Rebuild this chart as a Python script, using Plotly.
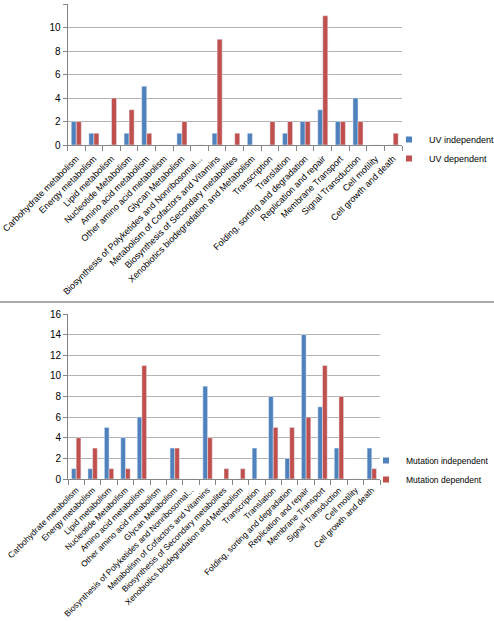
import plotly.graph_objects as go

categories = [
    "Carbohydrate metabolism", "Energy metabolism", "Lipid metabolism",
    "Nucleotide Metabolism", "Amino acid metabolism", "Other amino acid metabolism",
    "Glycan Metabolism", "Biosynthesis of Polyketides and Nonribosomal...",
    "Metabolism of Cofactors and Vitamins", "Biosynthesis of Secondary metabolites",
    "Xenobiotics biodegradation and Metabolism", "Transcription", "Translation",
    "Folding, sorting and degradation", "Replication and repair",
    "Membrane Transport", "Signal Transduction", "Cell motility",
    "Cell growth and death",
]
uv_independent = [2, 1, 0, 1, 5, 0, 1, 0, 1, 0, 1, 0, 1, 2, 3, 2, 4, 0, 0]
uv_dependent = [2, 1, 4, 3, 1, 0, 2, 0, 9, 1, 0, 2, 2, 2, 11, 2, 2, 0, 1]
mut_independent = [1, 1, 5, 4, 6, 0, 3, 0, 9, 0, 0, 3, 8, 2, 14, 7, 3, 0, 3]
mut_dependent = [4, 3, 1, 1, 11, 0, 3, 0, 4, 1, 1, 0, 5, 5, 6, 11, 8, 0, 1]

top_ticks = [0, 2, 4, 6, 8, 10, 12]
bottom_ticks = [0, 2, 4, 6, 8, 10, 12, 14, 16]

BLUE = "#4F81BD"
RED = "#C0504D"
W, H = 494, 621
FONT = "Liberation Sans"

def px_x(p):
    return p / W

def px_y(p):
    return 1 - p / H

fig = go.Figure()

fig.add_trace(go.Bar(x=categories, y=uv_independent, name="UV independent",
                     marker_color=BLUE, xaxis="x", yaxis="y", showlegend=False,
                     legendgroup="uvi"))
fig.add_trace(go.Bar(x=categories, y=uv_dependent, name="UV dependent",
                     marker_color=RED, xaxis="x", yaxis="y", showlegend=False,
                     legendgroup="uvd"))
fig.add_trace(go.Bar(x=categories, y=mut_independent, name="Mutation independent",
                     marker_color=BLUE, xaxis="x2", yaxis="y2", showlegend=False,
                     legendgroup="mi"))
fig.add_trace(go.Bar(x=categories, y=mut_dependent, name="Mutation dependent",
                     marker_color=RED, xaxis="x2", yaxis="y2", showlegend=False,
                     legendgroup="md"))

for name, color, grp, leg, xa, ya in [
    ("UV independent", BLUE, "uvi", "legend", "x", "y"),
    ("UV dependent", RED, "uvd", "legend", "x", "y"),
    ("Mutation independent", BLUE, "mi", "legend2", "x2", "y2"),
    ("Mutation dependent", RED, "md", "legend2", "x2", "y2"),
]:
    fig.add_trace(go.Scatter(x=[None], y=[None], mode="markers", name=name,
                             marker=dict(symbol="square", size=6, color=color),
                             legendgroup=grp, legend=leg, xaxis=xa, yaxis=ya,
                             showlegend=True))

axis_common = dict(
    showline=True, linecolor="#868686", linewidth=1, automargin=False,
)
xcommon = dict(axis_common, type="category", tickangle=-45, ticks="outside",
               tickson="boundaries", ticklen=5, tickcolor="#868686",
               showgrid=False)
ycommon = dict(axis_common, ticks="outside", ticklen=4, tickcolor="#868686",
               showgrid=True, gridcolor="#b3b3b3", gridwidth=1, zeroline=False,
               tickfont=dict(family=FONT, size=10, color="#000000"))

fig.update_layout(
    width=W, height=H,
    margin=dict(l=0, r=0, t=0, b=0, autoexpand=False),
    paper_bgcolor="white", plot_bgcolor="white",
    barmode="group", bargap=0.43, bargroupgap=0,
    font=dict(family=FONT, size=10, color="#000000"),
    xaxis=dict(xcommon, domain=[px_x(67.5), px_x(402)], anchor="y",
               ticklabelstandoff=4,
               tickfont=dict(family=FONT, size=9, color="#000000")),
    yaxis=dict(ycommon, domain=[px_y(145), px_y(4)], range=[0, 12],
               tickvals=top_ticks, anchor="x"),
    xaxis2=dict(xcommon, domain=[px_x(68), px_x(380)], anchor="y2",
                ticklabelstandoff=2,
                tickfont=dict(family=FONT, size=8.4, color="#000000")),
    yaxis2=dict(ycommon, domain=[px_y(479), px_y(314)], range=[0, 16],
                tickvals=bottom_ticks, anchor="x2"),
    legend=dict(x=px_x(389), y=px_y(125), xanchor="left", yanchor="top",
                font=dict(family=FONT, size=9), itemwidth=30,
                tracegroupgap=0, bgcolor="rgba(0,0,0,0)"),
    legend2=dict(x=px_x(366), y=px_y(446), xanchor="left", yanchor="top",
                 font=dict(family=FONT, size=8.5), itemwidth=30,
                 tracegroupgap=0, bgcolor="rgba(0,0,0,0)"),
    shapes=[dict(type="line", xref="paper", yref="paper", x0=0, x1=1,
                 y0=px_y(302), y1=px_y(302), line=dict(color="#8c8c8c", width=1.5))],
)

fig.write_html("out.html", config={"displayModeBar": False},
               post_script="document.body.style.margin='0';document.body.style.overflow='hidden';")
